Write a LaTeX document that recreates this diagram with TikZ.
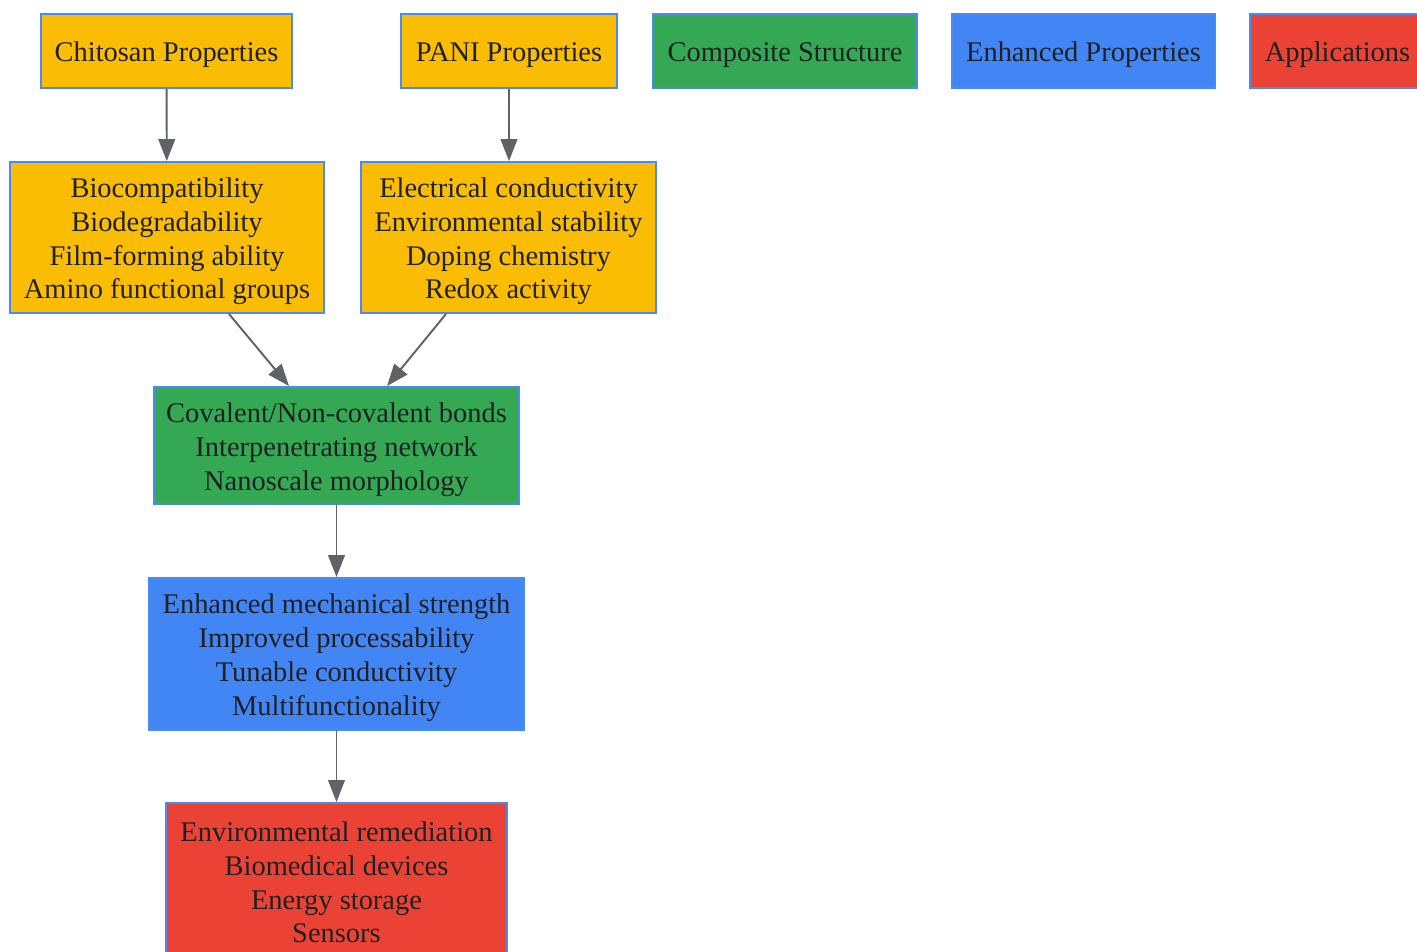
\documentclass[tikz,border=0pt]{standalone}
\usepackage{fontspec}
\setmainfont{Liberation Serif}
\usetikzlibrary{arrows.meta}
\definecolor{amarillo}{HTML}{FBBC04}
\definecolor{verde}{HTML}{34A853}
\definecolor{azul}{HTML}{4285F4}
\definecolor{rojo}{HTML}{EA4335}
\definecolor{borde}{HTML}{4A8AF4}
\definecolor{flecha}{HTML}{5F6368}
\definecolor{texto}{HTML}{202124}
\newcommand{\arriba}{\rule{0pt}{15.6pt}}
\tikzset{
  caja/.style={draw=borde, line width=1.1pt, align=center, inner sep=0pt,
    text=texto, font=\fontsize{16.2pt}{19.3pt}\selectfont},
  flujo/.style={->, draw=flecha, line width=1.1pt}
}
\begin{document}
\begin{tikzpicture}[x=0.02cm, y=-0.02cm, >={Triangle[length=12.5pt, width=9.5pt]}]
  \useasboundingbox (0,0) rectangle (1417,952);
  \clip (0,0) rectangle (1417,952);
  % cabeceras
  \node[caja, fill=amarillo, minimum width=5.02cm, minimum height=1.48cm] (chitosan) at (166.5,51) {\arriba Chitosan Properties};
  \node[caja, fill=amarillo, minimum width=4.32cm, minimum height=1.48cm] (pani) at (509,51) {\arriba PANI Properties};
  % leyenda
  \node[caja, fill=verde, minimum width=5.28cm, minimum height=1.48cm] (legComp) at (785,51) {\arriba Composite Structure};
  \node[caja, fill=azul, minimum width=5.26cm, minimum height=1.48cm] (legEnh) at (1083.5,51) {\arriba Enhanced Properties};
  \node[caja, fill=rojo, minimum width=3.5cm, minimum height=1.48cm] (legApp) at (1337.5,51) {\arriba Applications};
  % propiedades
  \node[caja, fill=amarillo, minimum width=6.28cm, minimum height=3.02cm] (chitoList) at (167,237.5)
    {\arriba Biocompatibility\\Biodegradability\\Film-forming ability\\Amino functional groups};
  \node[caja, fill=amarillo, minimum width=5.9cm, minimum height=3.02cm] (paniList) at (508.5,237.5)
    {\arriba Electrical conductivity\\Environmental stability\\Doping chemistry\\Redox activity};
  % compuesto
  \node[caja, fill=verde, minimum width=7.3cm, minimum height=2.34cm] (structure) at (336.5,445.5)
    {\arriba Covalent/Non-covalent bonds\\Interpenetrating network\\Nanoscale morphology};
  \node[caja, fill=azul, minimum width=7.5cm, minimum height=3.04cm] (enhanced) at (336.5,654)
    {\arriba Enhanced mechanical strength\\Improved processability\\Tunable conductivity\\Multifunctionality};
  \node[caja, fill=rojo, minimum width=6.82cm, minimum height=3.02cm] (apps) at (336.5,878.5)
    {\arriba Environmental remediation\\Biomedical devices\\Energy storage\\Sensors};
  % flechas
  \draw[flujo] (chitosan) -- (chitoList);
  \draw[flujo] (pani.south) -- (pani.south |- paniList.north);
  \draw[flujo] ([xshift=62*0.02cm]chitoList.south) -- ([xshift=-47.5*0.02cm]structure.north);
  \draw[flujo] ([xshift=-62.5*0.02cm]paniList.south) -- ([xshift=50.5*0.02cm]structure.north);
  \draw[flujo] (structure) -- (enhanced);
  \draw[flujo] (enhanced) -- (apps);
\end{tikzpicture}
\end{document}
